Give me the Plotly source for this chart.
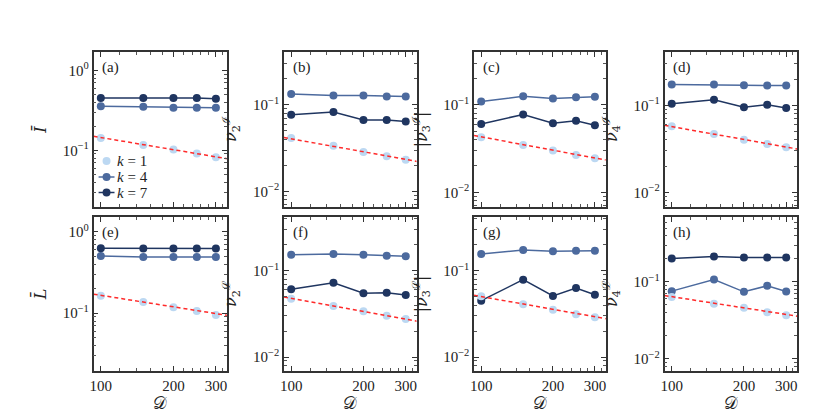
import plotly.graph_objects as go

D = [100, 150, 200, 250, 300]
labels = ["(a)", "(b)", "(c)", "(d)", "(e)", "(f)", "(g)", "(h)"]
ytitles = ["<i>Ī</i>", "<i>ν</i><sub>2</sub><sup>ℐ</sup>", "|<i>ν</i><sub>3</sub><sup>ℐ</sup>|",
           "<i>ν</i><sub>4</sub><sup>ℐ</sup>",
           "<i>L̄</i>", "<i>ν</i><sub>2</sub><sup>ℒ</sup>", "|<i>ν</i><sub>3</sub><sup>ℒ</sup>|",
           "<i>ν</i><sub>4</sub><sup>ℒ</sup>"]
legend_names = ["<i>k</i> = 1", "<i>k</i> = 4", "<i>k</i> = 7"]

# values, one list per panel
k1 = [
    [0.1425, 0.116, 0.102, 0.091, 0.082],
    [0.0413, 0.0337, 0.0285, 0.0254, 0.0232],
    [0.0427, 0.0348, 0.030, 0.0267, 0.0245],
    [0.0574, 0.0468, 0.0402, 0.0359, 0.0329],
    [0.164, 0.137, 0.118, 0.106, 0.095],
    [0.0474, 0.039, 0.0339, 0.0301, 0.0276],
    [0.0505, 0.0408, 0.0353, 0.0312, 0.0288],
    [0.0633, 0.0518, 0.0459, 0.0403, 0.0369],
]
k4 = [
    [0.355, 0.35, 0.34, 0.34, 0.34],
    [0.133, 0.128, 0.128, 0.125, 0.125],
    [0.109, 0.125, 0.118, 0.122, 0.124],
    [0.173, 0.173, 0.170, 0.169, 0.169],
    [0.503, 0.489, 0.49, 0.49, 0.49],
    [0.153, 0.156, 0.153, 0.149, 0.147],
    [0.156, 0.174, 0.168, 0.170, 0.170],
    [0.0757, 0.107, 0.0742, 0.0888, 0.0748],
]
k7 = [
    [0.45, 0.45, 0.45, 0.45, 0.44],
    [0.0767, 0.0824, 0.067, 0.067, 0.0643],
    [0.0605, 0.0776, 0.0616, 0.0656, 0.0585],
    [0.104, 0.116, 0.095, 0.1016, 0.093],
    [0.625, 0.62, 0.62, 0.62, 0.62],
    [0.0608, 0.0726, 0.0547, 0.0556, 0.0523],
    [0.045, 0.0787, 0.051, 0.063, 0.0527],
    [0.201, 0.213, 0.207, 0.207, 0.207],
]
# power-law fit lines (red dashed), end points
fit_x = [93.3, 333.4]
fit_y = [
    [0.1496, 0.0785],
    [0.042, 0.0222],
    [0.0446, 0.0234],
    [0.0589, 0.0315],
    [0.171, 0.094],
    [0.0496, 0.026],
    [0.0519, 0.0278],
    [0.0664, 0.0358],
]
yranges = [[-1.71, 0.23], [-2.18, -0.39], [-2.168, -0.396], [-2.169, -0.387],
           [-1.71, 0.18], [-2.162, -0.378], [-2.162, -0.378], [-2.16, -0.156]]

c1 = "#bcd8f2"
c4 = "#4c6a9e"
c7 = "#1f3560"
W, H = 830, 413
xpix = [(82, 216), (273.3, 406.7), (464.3, 596.7), (655.7, 789)]
ypix = [(44, 199), (209, 363)]

fig = go.Figure()
serif = "Liberation Serif"
minor_y = [m * 10.0 ** e for e in (-3, -2, -1, 0) for m in range(2, 10)]
minor_x = [120, 140, 160, 180, 220, 240, 260, 280, 320]

for i in range(8):
    row, col = divmod(i, 4)
    n = "" if i == 0 else str(i + 1)
    xa, ya = "x" + n, "y" + n
    fig.add_trace(go.Scatter(x=D, y=k4[i], mode="lines+markers", showlegend=False,
                             line=dict(color=c4, width=1.5), marker=dict(size=8, color=c4),
                             xaxis=xa, yaxis=ya))
    fig.add_trace(go.Scatter(x=D, y=k7[i], mode="lines+markers", showlegend=False,
                             line=dict(color=c7, width=1.5), marker=dict(size=8, color=c7),
                             xaxis=xa, yaxis=ya))
    fig.add_trace(go.Scatter(x=D, y=k1[i], mode="markers", showlegend=False,
                             marker=dict(size=8, color=c1), xaxis=xa, yaxis=ya))
    fig.add_trace(go.Scatter(x=fit_x, y=fit_y[i], mode="lines", showlegend=False,
                             line=dict(color="#ff2a2a", width=1.5, dash="4px,3px"),
                             xaxis=xa, yaxis=ya))

    x0, x1 = xpix[col]
    y0, y1 = ypix[row]
    common = dict(showline=True, linecolor="#333", linewidth=1.5, mirror="allticks",
                  ticks="inside", ticklen=5, tickwidth=1.2, tickcolor="#333",
                  showgrid=False, zeroline=False,
                  tickfont=dict(family=serif, size=15, color="#222"))
    fig.layout["xaxis" + n] = dict(
        common, type="log", range=[1.97, 2.523], domain=[x0 / W, x1 / W],
        anchor=ya, tickvals=[100, 200, 300], ticktext=["100", "200", "300"],
        showticklabels=row == 1,
        minor=dict(tickvals=minor_x, ticks="inside", ticklen=3, tickcolor="#555"),
        title=dict(text="𝒟" if row == 1 else "", font=dict(family=serif, size=17, color="#222"),
                   standoff=4))
    fig.layout["yaxis" + n] = dict(
        common, type="log", range=yranges[i], domain=[1 - y1 / H, 1 - y0 / H],
        anchor=xa, tickvals=[0.01, 0.1, 1], ticktext=["10<sup>−2</sup>", "10<sup>−1</sup>", "10<sup>0</sup>"],
        minor=dict(tickvals=minor_y, ticks="inside", ticklen=3, tickcolor="#555"),
        title=dict(text=ytitles[i], font=dict(family="DejaVu Serif", size=16, color="#222"),
                   standoff=12))
    fig.add_annotation(text=labels[i], xref=xa + " domain", yref=ya + " domain",
                       x=0.05, y=0.97, xanchor="left", yanchor="top", showarrow=False,
                       font=dict(family=serif, size=15, color="#222"))

# hand-made legend inside panel (a): tight row spacing like the original
leg_colors = [c1, c4, c7]
leg_lines = [False, True, True]
leg_y = [1 - 153 / H, 1 - 169 / H, 1 - 184.5 / H]
for name, col, has_line, yy in zip(legend_names, leg_colors, leg_lines, leg_y):
    if has_line:
        fig.add_shape(type="line", xref="paper", yref="paper", x0=87 / W, x1=103 / W,
                      y0=yy, y1=yy, line=dict(color=col, width=1.5))
    fig.add_shape(type="circle", xref="paper", yref="paper", xsizemode="pixel", ysizemode="pixel",
                  xanchor=95 / W, yanchor=yy, x0=-4, x1=4, y0=-4, y1=4,
                  fillcolor=col, line=dict(color=col, width=0))
    fig.add_annotation(text=name, xref="paper", yref="paper", x=103 / W, y=yy,
                       xanchor="left", yanchor="middle", showarrow=False,
                       font=dict(family=serif, size=15, color="#222"))

fig.update_layout(
    width=W, height=H, margin=dict(l=0, r=0, t=0, b=0),
    plot_bgcolor="white", paper_bgcolor="white",
)

fig.write_html("out.html")
